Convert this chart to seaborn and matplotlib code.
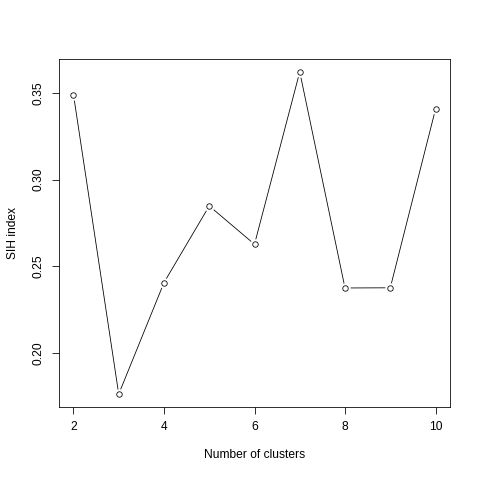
import matplotlib
matplotlib.use("Agg")
import matplotlib.pyplot as plt
import seaborn as sns
import pandas as pd

# SIH index per number of clusters
n_clusters = [2, 3, 4, 5, 6, 7, 8, 9, 10]
sih_index = [0.3490, 0.1763, 0.2406, 0.2848, 0.2627, 0.3621, 0.2375, 0.2376, 0.3406]
x_ticks = [2, 4, 6, 8, 10]
y_ticks = [0.20, 0.25, 0.30, 0.35]

df = pd.DataFrame({"k": n_clusters, "sih": sih_index})

sns.set_theme(style="ticks")
plt.rcParams['font.family'] = ['Liberation Sans', 'DejaVu Sans']

fig = plt.figure(figsize=(480 / 72, 480 / 72), dpi=72)
ax = fig.add_axes([59 / 480, 73 / 480, 391 / 480, 348 / 480])

# R type="b": line with small gaps around the open circles
sns.lineplot(data=df, x="k", y="sih", color="black", linewidth=0.8, ax=ax)
ax.scatter(df["k"], df["sih"], s=110, color="white", zorder=3, linewidths=0)
ax.scatter(df["k"], df["sih"], s=30, facecolors="white", edgecolors="black",
           linewidths=0.8, zorder=4)

lo, hi = min(sih_index), max(sih_index)
pad = (hi - lo) * 0.04
ax.set_ylim(lo - pad, hi + pad)
ax.set_xlim(2 - 8 * 0.04, 10 + 8 * 0.04)

ax.set_xticks(x_ticks)
ax.set_xticklabels([str(t) for t in x_ticks])
ax.set_yticks(y_ticks)
ax.set_yticklabels([f"{t:.2f}" for t in y_ticks], rotation=90, va="center")

for side in ["top", "right", "left", "bottom"]:
    ax.spines[side].set_visible(True)
    ax.spines[side].set_color("black")
    ax.spines[side].set_linewidth(0.8)

ax.tick_params(axis="both", direction="out", length=7, width=0.8,
               color="black", labelsize=12, labelcolor="black")
ax.tick_params(axis="x", pad=7)
ax.tick_params(axis="y", pad=7)

ax.set_xlabel("Number of clusters", fontsize=12, color="black", labelpad=16)
ax.set_ylabel("SIH index", fontsize=12, color="black", labelpad=14)
ax.grid(False)

fig.savefig("out.png", dpi=72, facecolor="white")
